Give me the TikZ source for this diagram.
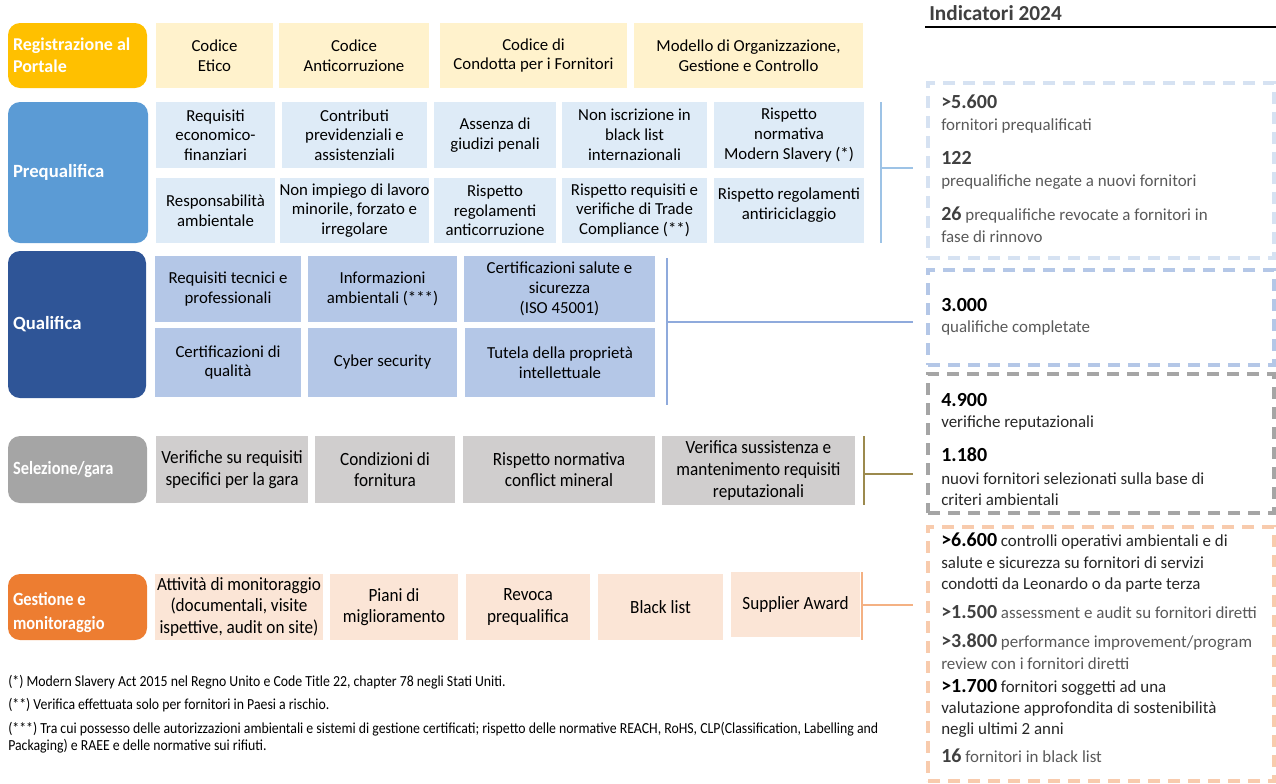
\documentclass[tikz,border=0pt]{standalone}
\usepackage{fontspec}
\setmainfont{Carlito}
\newfontfamily\nar{Carlito}[FakeStretch=0.92]
\newfontfamily\narb{Carlito}[FakeStretch=0.88]
\newfontfamily\fnar{Carlito}[FakeStretch=0.9]
\definecolor{regO}{HTML}{FFC000}
\definecolor{regL}{HTML}{FFF2CC}
\definecolor{preO}{HTML}{5B9BD5}
\definecolor{preL}{HTML}{DEEBF7}
\definecolor{quaO}{HTML}{2F5597}
\definecolor{quaL}{HTML}{B4C7E7}
\definecolor{selO}{HTML}{A5A5A5}
\definecolor{selL}{HTML}{D0CECE}
\definecolor{gesO}{HTML}{ED7D31}
\definecolor{gesL}{HTML}{FBE5D6}
\definecolor{preLine}{HTML}{9DC3E6}
\definecolor{quaLine}{HTML}{8FAADC}
\definecolor{selLine}{HTML}{9C8A4E}
\definecolor{gesLine}{HTML}{F4B183}
\definecolor{dPre}{HTML}{D6E2F2}
\definecolor{dQua}{HTML}{B4C7E7}
\definecolor{dSel}{HTML}{A5A5A5}
\definecolor{dGes}{HTML}{F8CBAD}
\definecolor{txtG}{HTML}{595959}
\definecolor{txtD}{HTML}{404040}
\tikzset{
  phase/.style={rounded corners=9pt, text=white, align=flush left, inner ysep=0pt,
    font=\fontsize{14}{17}\selectfont\bfseries},
  cell/.style={align=center, inner sep=0pt, text=black,
    font=\fontsize{12.6}{14.8}\selectfont},
  ncell/.style={align=center, inner sep=0pt, text=black,
    font=\nar\fontsize{14}{16.3}\selectfont},
  dbox/.style={line width=2.4pt, dash pattern=on 9pt off 6pt},
  conn/.style={line width=1pt},
  tline/.style={anchor=west, inner sep=0pt, text=txtG,
    font=\fontsize{12.7}{15}\selectfont},
  fnote/.style={anchor=west, inner sep=0pt, text=black,
    font=\fnar\fontsize{11.5}{13}\selectfont},
}
\newcommand\bx[7]{%
  \pgfmathsetmacro\bxw{(#4-#2)*0.75}%
  \pgfmathsetmacro\bxh{(#5-#3)*0.75}%
  \node[#6, minimum width=\bxw pt, minimum height=\bxh pt] (#1) at ({(#2+#4)/2},{(#3+#5)/2}) {#7};}
\newcommand\ph[8]{%
  \pgfmathsetmacro\bxw{(#4-#2-10)*0.75}%
  \pgfmathsetmacro\bxh{(#5-#3)*0.75}%
  \node[phase, fill=#6, #7, text width=\bxw pt, minimum height=\bxh pt, inner xsep=3.75pt] (#1) at ({(#2+#4)/2},{(#3+#5)/2}) {#8};}
\newcommand\nb[1]{{\fontsize{15}{15}\selectfont\bfseries #1}}
\begin{document}
\begin{tikzpicture}[x=0.75pt,y=-0.75pt]
\useasboundingbox (0,0) rectangle (1276,783);
% ---------- Registrazione
\ph{reg}{8}{23}{147}{88}{regO}{font=\fontsize{13.5}{16.5}\selectfont\bfseries}{Registrazione al\\Portale}
\bx{r1}{156}{23}{273}{88}{cell,fill=regL}{Codice\\Etico}
\bx{r2}{279}{23}{429}{88}{cell,fill=regL}{Codice\\Anticorruzione}
\bx{r3}{440}{23}{627}{88}{cell,fill=regL}{Codice di\\Condotta per i Fornitori}
\bx{r4}{634}{23}{863}{88}{cell,fill=regL}{Modello di Organizzazione,\\Gestione e Controllo}
% ---------- Prequalifica
\ph{pre}{8}{102}{148}{243}{preO}{}{Prequalifica}
\bx{p1}{156}{102}{275}{168}{cell,fill=preL}{Requisiti\\economico-\\finanziari}
\bx{p2}{282}{102}{427}{168}{cell,fill=preL}{Contributi\\previdenziali e\\assistenziali}
\bx{p3}{434}{102}{556}{168}{cell,fill=preL}{Assenza di\\giudizi penali}
\bx{p4}{562}{102}{707}{168}{cell,fill=preL}{Non iscrizione in\\black list\\internazionali}
\bx{p5}{714}{102}{864}{168}{cell,fill=preL}{Rispetto\\normativa\\Modern Slavery (*)}
\bx{p6}{156}{178}{275}{243}{cell,fill=preL}{Responsabilità\\ambientale}
\bx{p7}{282}{178}{427}{243}{cell,fill=preL}{Non impiego di lavoro\\minorile, forzato e\\irregolare}
\bx{p8}{434}{178}{556}{243}{cell,fill=preL}{Rispetto\\regolamenti\\anticorruzione}
\bx{p9}{562}{178}{707}{243}{cell,fill=preL}{Rispetto requisiti e\\verifiche di Trade\\Compliance (**)}
\bx{p10}{714}{178}{864}{243}{cell,fill=preL}{Rispetto regolamenti\\antiriciclaggio\\[-5pt]\mbox{}}
\coordinate (preT) at (881,102);
\coordinate (preB) at (881,243);
\coordinate (preM) at (881,168);
\coordinate (preE) at (913,168);
\draw[conn,preLine] (preT) -- (preB);
\draw[conn,preLine] (preM) -- (preE);
% ---------- Qualifica
\ph{qua}{8}{251}{146}{398}{quaO}{}{Qualifica}
\bx{q1}{155}{256}{301}{322}{cell,fill=quaL}{Requisiti tecnici e\\professionali}
\bx{q2}{308}{256}{457}{322}{cell,fill=quaL}{Informazioni\\ambientali (***)}
\bx{q3}{464}{256}{655}{322}{cell,fill=quaL}{Certificazioni salute e\\sicurezza\\(ISO 45001)}
\bx{q4}{155}{328}{301}{397}{cell,fill=quaL}{Certificazioni di\\qualità}
\bx{q5}{308}{328}{457}{397}{cell,fill=quaL}{Cyber security}
\bx{q6}{465}{328}{655}{397}{cell,fill=quaL}{Tutela della proprietà\\intellettuale}
\coordinate (quaT) at (667,258);
\coordinate (quaB) at (667,405);
\coordinate (quaM) at (667,322);
\coordinate (quaE) at (913,322);
\draw[conn,quaLine] (quaT) -- (quaB);
\draw[conn,quaLine] (quaM) -- (quaE);
% ---------- Selezione
\ph{sel}{8}{436}{147}{503}{selO}{font=\narb\fontsize{14}{17}\selectfont\bfseries}{Selezione/gara}
\bx{s1}{156}{436}{308}{503}{ncell,fill=selL}{Verifiche su requisiti\\specifici per la gara}
\bx{s2}{315}{436}{455}{503}{ncell,fill=selL}{Condizioni di\\fornitura}
\bx{s3}{463}{436}{655}{503}{ncell,fill=selL}{Rispetto normativa\\conflict mineral}
\bx{s4}{662}{436}{855}{505}{ncell,fill=selL}{Verifica sussistenza e\\mantenimento requisiti\\reputazionali}
\coordinate (selT) at (864,436);
\coordinate (selB) at (864,505);
\coordinate (selM) at (864,474);
\coordinate (selE) at (913,474);
\draw[conn,selLine] (selT) -- (selB);
\draw[conn,selLine] (selM) -- (selE);
% ---------- Gestione
\ph{ges}{8}{574}{147}{640}{gesO}{font=\narb\fontsize{14}{18}\selectfont\bfseries}{\rule{0pt}{17.5pt}Gestione e\\monitoraggio}
\bx{g1}{155}{574}{323}{640}{ncell,fill=gesL}{Attività di monitoraggio\\(documentali, visite\\ispettive, audit on site)}
\bx{g2}{330}{574}{458}{640}{ncell,fill=gesL}{Piani di\\miglioramento}
\bx{g3}{466}{574}{590}{640}{ncell,fill=gesL}{Revoca\\prequalifica}
\bx{g4}{598}{574}{723}{640}{ncell,fill=gesL}{Black list}
\bx{g5}{731}{572}{860}{637}{ncell,fill=gesL}{Supplier Award}
\coordinate (gesT) at (862,572);
\coordinate (gesB) at (862,640);
\coordinate (gesM) at (862,605);
\coordinate (gesE) at (913,605);
\draw[conn,gesLine] (gesT) -- (gesB);
\draw[conn,gesLine] (gesM) -- (gesE);
% ---------- Footnotes
\node[fnote] (f1) at (8,683) {(*) Modern Slavery Act 2015 nel Regno Unito e Code Title 22, chapter 78 negli Stati Uniti.\strut};
\node[fnote] (f2) at (8,706) {(**) Verifica effettuata solo per fornitori in Paesi a rischio.\strut};
\node[fnote] (f3) at (8,730) {(***) Tra cui possesso delle autorizzazioni ambientali e sistemi di gestione certificati; rispetto delle normative REACH, RoHS, CLP(Classification, Labelling and\strut};
\node[fnote] (f4) at (8,747) {Packaging) e RAEE e delle normative sui rifiuti.\strut};
% ---------- Indicatori
\node[anchor=west, inner sep=0pt, text=txtD, font=\fontsize{16}{18}\selectfont\bfseries] (ind) at (929,16) {Indicatori 2024\strut};
\coordinate (indL) at (925,27);
\coordinate (indR) at (1276,27);
\draw[line width=1pt, black] (indL) -- (indR);
\bx{d1}{928}{83}{1274}{258}{dbox,draw=dPre}{}
\bx{d2}{928}{270}{1274}{365}{dbox,draw=dQua}{}
\bx{d3}{928}{374}{1274}{513}{dbox,draw=dSel}{}
\bx{d4}{928}{527}{1274}{781}{dbox,draw=dGes}{}
% box 1
\node[tline] (t1a) at (941,104) {\color{txtD}\nb{>5.600}\strut};
\node[tline] (t1b) at (941,126) {fornitori prequalificati\strut};
\node[tline] (t1c) at (941,160) {\color{txtD}\nb{122}\strut};
\node[tline] (t1d) at (941,182) {prequalifiche negate a nuovi fornitori\strut};
\node[tline] (t1e) at (941,216) {{\color{txtD}\nb{26}} prequalifiche revocate a fornitori in\strut};
\node[tline] (t1f) at (941,238) {fase di rinnovo\strut};
% box 2
\node[tline] (t2a) at (941,307) {\color{black}\nb{3.000}\strut};
\node[tline] (t2b) at (941,328) {qualifiche completate\strut};
% box 3
\node[tline, text=black] (t3a) at (941,402) {\nb{4.900}\strut};
\node[tline, text=black!85] (t3b) at (941,423) {verifiche reputazionali\strut};
\node[tline, text=black] (t3c) at (941,457) {\nb{1.180}\strut};
\node[tline, text=black!85] (t3d) at (941,480) {nuovi fornitori selezionati sulla base di\strut};
\node[tline, text=black!85] (t3e) at (941,501) {criteri ambientali\strut};
% box 4
\node[tline, text=black!85] (t4a) at (941,542) {{\color{black}\nb{>6.600}} controlli operativi ambientali e di\strut};
\node[tline, text=black!85] (t4b) at (941,564) {salute e sicurezza su fornitori di servizi\strut};
\node[tline, text=black!85] (t4c) at (941,585) {condotti da Leonardo o da parte terza\strut};
\node[tline] (t4d) at (941,614) {{\color{txtD}\nb{>1.500}} assessment e audit su fornitori diretti\strut};
\node[tline] (t4e) at (941,643) {{\color{txtD}\nb{>3.800}} performance improvement/program\strut};
\node[tline] (t4f) at (941,665) {review con i fornitori diretti\strut};
\node[tline, text=black!85] (t4g) at (941,688) {{\color{black}\nb{>1.700}} fornitori soggetti ad una\strut};
\node[tline, text=black!85] (t4h) at (941,709) {valutazione approfondita di sostenibilità\strut};
\node[tline, text=black!85] (t4i) at (941,730) {negli ultimi 2 anni\strut};
\node[tline] (t4j) at (941,758) {{\color{txtD}\nb{16}} fornitori in black list\strut};
\end{tikzpicture}
\end{document}
